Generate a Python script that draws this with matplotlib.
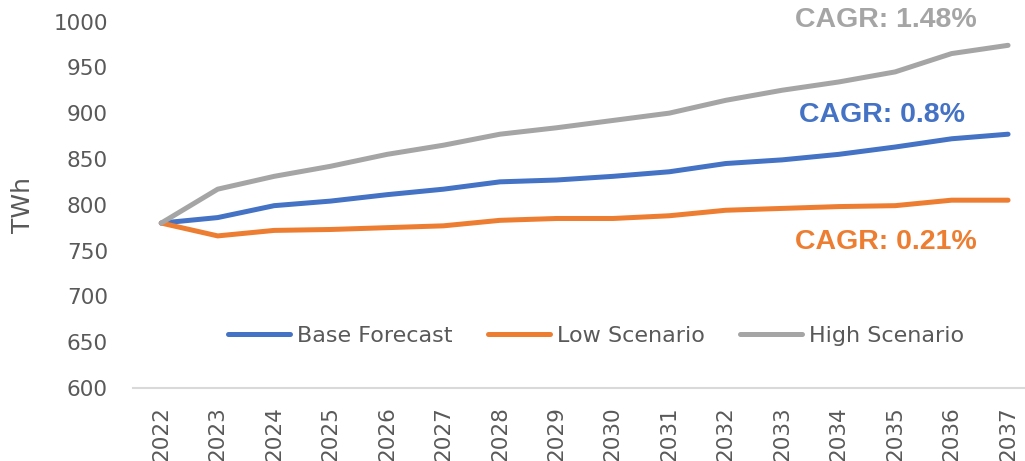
import numpy as np
import matplotlib
matplotlib.use("Agg")
import matplotlib.pyplot as plt

years = [str(y) for y in range(2022, 2038)]
base_forecast = [780, 786, 799, 804, 811, 817, 825, 827, 831, 836, 845, 849, 855, 863, 872, 877]
low_scenario = [780, 766, 772, 773, 775, 777, 783, 785, 785, 788, 794, 796, 798, 799, 805, 805]
high_scenario = [780, 817, 831, 842, 855, 865, 877, 884, 892, 900, 914, 925, 934, 945, 965, 974]

cagr_labels = ["CAGR: 1.48%", "CAGR: 0.8%", "CAGR: 0.21%"]

BLUE = "#4472C4"
ORANGE = "#ED7D31"
GRAY = "#A5A5A5"
TEXT = "#595959"

plt.rcParams["font.family"] = ["DejaVu Sans"]

fig = plt.figure(figsize=(10.25, 4.61), dpi=100)
ax = fig.add_axes([133 / 1025, 1 - 388 / 461, 892 / 1025, 366.5 / 461])

x = np.arange(len(years))
line_style = dict(lw=3.6, solid_capstyle="round", solid_joinstyle="round")
ax.plot(x, base_forecast, color=BLUE, label="Base Forecast", **line_style)
ax.plot(x, low_scenario, color=ORANGE, label="Low Scenario", **line_style)
ax.plot(x, high_scenario, color=GRAY, label="High Scenario", **line_style)

ax.set_xlim(-0.5, 15.3)
ax.set_ylim(600, 1000)
ax.set_yticks(np.arange(600, 1001, 50))
ax.set_xticks(x)
ax.set_xticklabels(years, rotation=90)
ax.tick_params(axis="y", length=0, pad=18, labelsize=15.5, labelcolor=TEXT)
ax.tick_params(axis="x", length=0, pad=13, labelsize=15.5, labelcolor=TEXT)

for side in ["top", "right", "left"]:
    ax.spines[side].set_visible(False)
ax.spines["bottom"].set_color("#D9D9D9")
ax.spines["bottom"].set_linewidth(1.5)

ax.set_ylabel("TWh", fontsize=18, color=TEXT)
ax.yaxis.set_label_coords(-0.11, 0.5)

# growth rate notes near the right end of each line
note_font = dict(family="Liberation Sans", weight="bold", fontsize=20.5, ha="center", va="center", clip_on=False)
ax.text(12.84, 1001.4, cagr_labels[0], color=GRAY, **note_font)
ax.text(12.77, 897.5, cagr_labels[1], color=BLUE, **note_font)
ax.text(12.84, 759.4, cagr_labels[2], color=ORANGE, **note_font)

leg = ax.legend(loc="center", bbox_to_anchor=(596 / 1025, 1 - 336 / 461), bbox_transform=fig.transFigure,
                ncol=3, frameon=False, fontsize=16, handlelength=2.8, handletextpad=0.3,
                columnspacing=1.6)
for t in leg.get_texts():
    t.set_color(TEXT)

fig.savefig("out.png", dpi=100)
